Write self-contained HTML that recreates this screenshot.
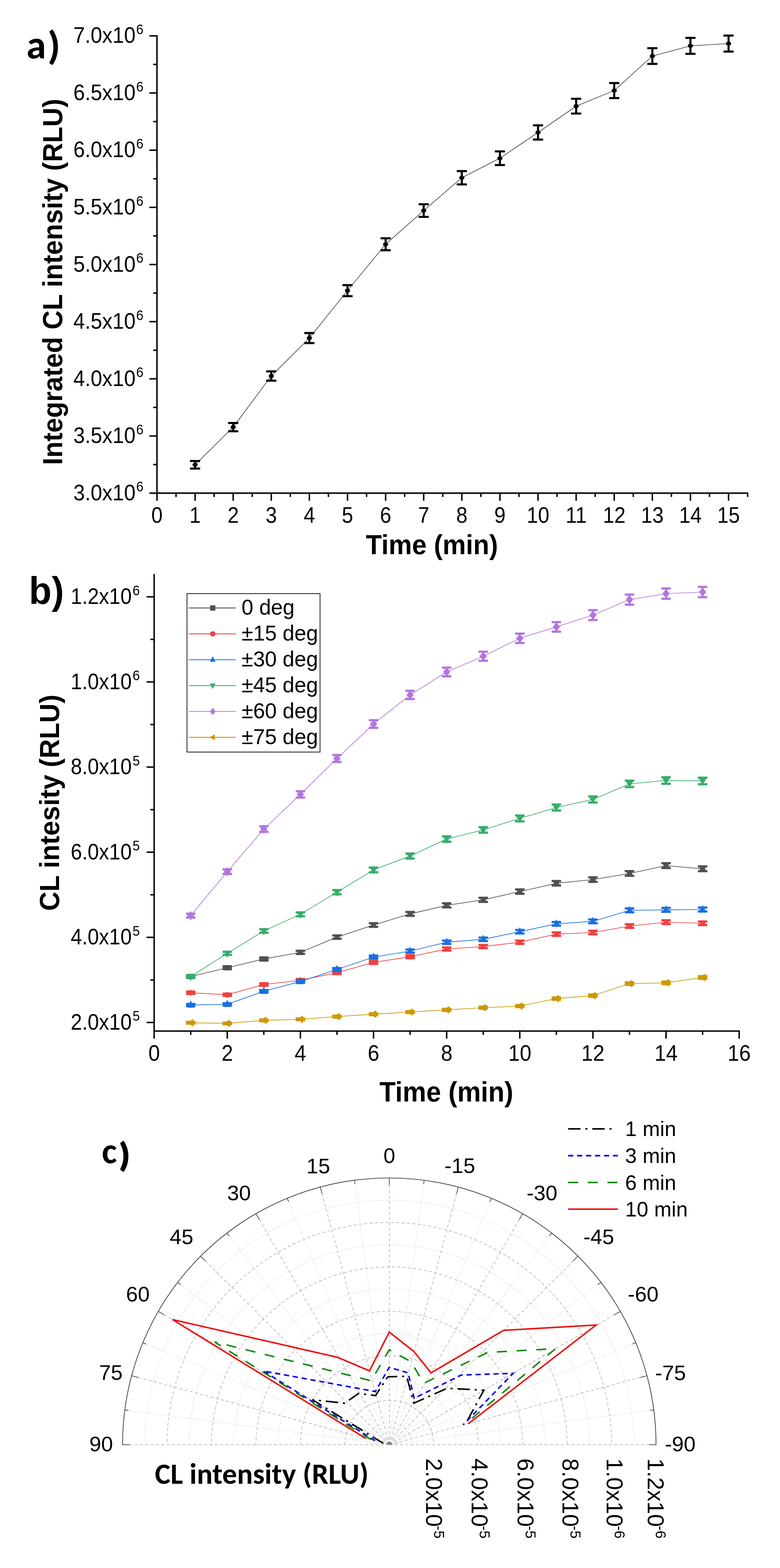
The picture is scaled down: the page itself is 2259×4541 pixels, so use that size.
<!DOCTYPE html>
<html><head><meta charset="utf-8"><title>Figure</title>
<style>html,body{margin:0;padding:0;background:#fff;} svg{display:block;}</style></head>
<body><svg width="2259" height="4541" viewBox="0 0 2259 4541">
<rect width="2259" height="4541" fill="#fff"/>
<line x1="454.6" y1="101.7" x2="454.6" y2="1430.3" stroke="#000" stroke-width="4.2" />
<line x1="452.5" y1="1428.2" x2="2167.3" y2="1428.2" stroke="#000" stroke-width="4.2" />
<line x1="432.6" y1="1428.2" x2="454.6" y2="1428.2" stroke="#000" stroke-width="4.2" />
<line x1="443.6" y1="1345.4" x2="454.6" y2="1345.4" stroke="#000" stroke-width="4.2" />
<line x1="432.6" y1="1262.7" x2="454.6" y2="1262.7" stroke="#000" stroke-width="4.2" />
<line x1="443.6" y1="1179.9" x2="454.6" y2="1179.9" stroke="#000" stroke-width="4.2" />
<line x1="432.6" y1="1097.1" x2="454.6" y2="1097.1" stroke="#000" stroke-width="4.2" />
<line x1="443.6" y1="1014.3" x2="454.6" y2="1014.3" stroke="#000" stroke-width="4.2" />
<line x1="432.6" y1="931.5" x2="454.6" y2="931.5" stroke="#000" stroke-width="4.2" />
<line x1="443.6" y1="848.8" x2="454.6" y2="848.8" stroke="#000" stroke-width="4.2" />
<line x1="432.6" y1="766.0" x2="454.6" y2="766.0" stroke="#000" stroke-width="4.2" />
<line x1="443.6" y1="683.2" x2="454.6" y2="683.2" stroke="#000" stroke-width="4.2" />
<line x1="432.6" y1="600.5" x2="454.6" y2="600.5" stroke="#000" stroke-width="4.2" />
<line x1="443.6" y1="517.7" x2="454.6" y2="517.7" stroke="#000" stroke-width="4.2" />
<line x1="432.6" y1="434.9" x2="454.6" y2="434.9" stroke="#000" stroke-width="4.2" />
<line x1="443.6" y1="352.1" x2="454.6" y2="352.1" stroke="#000" stroke-width="4.2" />
<line x1="432.6" y1="269.3" x2="454.6" y2="269.3" stroke="#000" stroke-width="4.2" />
<line x1="443.6" y1="186.6" x2="454.6" y2="186.6" stroke="#000" stroke-width="4.2" />
<line x1="432.6" y1="103.8" x2="454.6" y2="103.8" stroke="#000" stroke-width="4.2" />
<line x1="454.6" y1="1428.2" x2="454.6" y2="1450.2" stroke="#000" stroke-width="4.2" />
<line x1="509.8" y1="1428.2" x2="509.8" y2="1439.2" stroke="#000" stroke-width="4.2" />
<line x1="565.0" y1="1428.2" x2="565.0" y2="1450.2" stroke="#000" stroke-width="4.2" />
<line x1="620.1" y1="1428.2" x2="620.1" y2="1439.2" stroke="#000" stroke-width="4.2" />
<line x1="675.3" y1="1428.2" x2="675.3" y2="1450.2" stroke="#000" stroke-width="4.2" />
<line x1="730.5" y1="1428.2" x2="730.5" y2="1439.2" stroke="#000" stroke-width="4.2" />
<line x1="785.7" y1="1428.2" x2="785.7" y2="1450.2" stroke="#000" stroke-width="4.2" />
<line x1="840.9" y1="1428.2" x2="840.9" y2="1439.2" stroke="#000" stroke-width="4.2" />
<line x1="896.0" y1="1428.2" x2="896.0" y2="1450.2" stroke="#000" stroke-width="4.2" />
<line x1="951.2" y1="1428.2" x2="951.2" y2="1439.2" stroke="#000" stroke-width="4.2" />
<line x1="1006.4" y1="1428.2" x2="1006.4" y2="1450.2" stroke="#000" stroke-width="4.2" />
<line x1="1061.6" y1="1428.2" x2="1061.6" y2="1439.2" stroke="#000" stroke-width="4.2" />
<line x1="1116.8" y1="1428.2" x2="1116.8" y2="1450.2" stroke="#000" stroke-width="4.2" />
<line x1="1171.9" y1="1428.2" x2="1171.9" y2="1439.2" stroke="#000" stroke-width="4.2" />
<line x1="1227.1" y1="1428.2" x2="1227.1" y2="1450.2" stroke="#000" stroke-width="4.2" />
<line x1="1282.3" y1="1428.2" x2="1282.3" y2="1439.2" stroke="#000" stroke-width="4.2" />
<line x1="1337.5" y1="1428.2" x2="1337.5" y2="1450.2" stroke="#000" stroke-width="4.2" />
<line x1="1392.7" y1="1428.2" x2="1392.7" y2="1439.2" stroke="#000" stroke-width="4.2" />
<line x1="1447.8" y1="1428.2" x2="1447.8" y2="1450.2" stroke="#000" stroke-width="4.2" />
<line x1="1503.0" y1="1428.2" x2="1503.0" y2="1439.2" stroke="#000" stroke-width="4.2" />
<line x1="1558.2" y1="1428.2" x2="1558.2" y2="1450.2" stroke="#000" stroke-width="4.2" />
<line x1="1613.4" y1="1428.2" x2="1613.4" y2="1439.2" stroke="#000" stroke-width="4.2" />
<line x1="1668.6" y1="1428.2" x2="1668.6" y2="1450.2" stroke="#000" stroke-width="4.2" />
<line x1="1723.7" y1="1428.2" x2="1723.7" y2="1439.2" stroke="#000" stroke-width="4.2" />
<line x1="1778.9" y1="1428.2" x2="1778.9" y2="1450.2" stroke="#000" stroke-width="4.2" />
<line x1="1834.1" y1="1428.2" x2="1834.1" y2="1439.2" stroke="#000" stroke-width="4.2" />
<line x1="1889.3" y1="1428.2" x2="1889.3" y2="1450.2" stroke="#000" stroke-width="4.2" />
<line x1="1944.5" y1="1428.2" x2="1944.5" y2="1439.2" stroke="#000" stroke-width="4.2" />
<line x1="1999.6" y1="1428.2" x2="1999.6" y2="1450.2" stroke="#000" stroke-width="4.2" />
<line x1="2054.8" y1="1428.2" x2="2054.8" y2="1439.2" stroke="#000" stroke-width="4.2" />
<line x1="2110.0" y1="1428.2" x2="2110.0" y2="1450.2" stroke="#000" stroke-width="4.2" />
<line x1="2165.2" y1="1428.2" x2="2165.2" y2="1439.2" stroke="#000" stroke-width="4.2" />
<text transform="translate(392.5,1448.7) scale(0.937,1)" font-family='"Liberation Sans", Arial, sans-serif' font-size="64" font-weight="normal" text-anchor="end" fill="#000" >3.0x10</text>
<text transform="translate(394.5,1423.4) scale(0.92,1)" font-family='"Liberation Sans", Arial, sans-serif' font-size="41" font-weight="normal" text-anchor="start" fill="#000" >6</text>
<text transform="translate(392.5,1283.2) scale(0.937,1)" font-family='"Liberation Sans", Arial, sans-serif' font-size="64" font-weight="normal" text-anchor="end" fill="#000" >3.5x10</text>
<text transform="translate(394.5,1257.9) scale(0.92,1)" font-family='"Liberation Sans", Arial, sans-serif' font-size="41" font-weight="normal" text-anchor="start" fill="#000" >6</text>
<text transform="translate(392.5,1117.6) scale(0.937,1)" font-family='"Liberation Sans", Arial, sans-serif' font-size="64" font-weight="normal" text-anchor="end" fill="#000" >4.0x10</text>
<text transform="translate(394.5,1092.3) scale(0.92,1)" font-family='"Liberation Sans", Arial, sans-serif' font-size="41" font-weight="normal" text-anchor="start" fill="#000" >6</text>
<text transform="translate(392.5,952.0) scale(0.937,1)" font-family='"Liberation Sans", Arial, sans-serif' font-size="64" font-weight="normal" text-anchor="end" fill="#000" >4.5x10</text>
<text transform="translate(394.5,926.8) scale(0.92,1)" font-family='"Liberation Sans", Arial, sans-serif' font-size="41" font-weight="normal" text-anchor="start" fill="#000" >6</text>
<text transform="translate(392.5,786.5) scale(0.937,1)" font-family='"Liberation Sans", Arial, sans-serif' font-size="64" font-weight="normal" text-anchor="end" fill="#000" >5.0x10</text>
<text transform="translate(394.5,761.2) scale(0.92,1)" font-family='"Liberation Sans", Arial, sans-serif' font-size="41" font-weight="normal" text-anchor="start" fill="#000" >6</text>
<text transform="translate(392.5,621.0) scale(0.937,1)" font-family='"Liberation Sans", Arial, sans-serif' font-size="64" font-weight="normal" text-anchor="end" fill="#000" >5.5x10</text>
<text transform="translate(394.5,595.7) scale(0.92,1)" font-family='"Liberation Sans", Arial, sans-serif' font-size="41" font-weight="normal" text-anchor="start" fill="#000" >6</text>
<text transform="translate(392.5,455.4) scale(0.937,1)" font-family='"Liberation Sans", Arial, sans-serif' font-size="64" font-weight="normal" text-anchor="end" fill="#000" >6.0x10</text>
<text transform="translate(394.5,430.1) scale(0.92,1)" font-family='"Liberation Sans", Arial, sans-serif' font-size="41" font-weight="normal" text-anchor="start" fill="#000" >6</text>
<text transform="translate(392.5,289.8) scale(0.937,1)" font-family='"Liberation Sans", Arial, sans-serif' font-size="64" font-weight="normal" text-anchor="end" fill="#000" >6.5x10</text>
<text transform="translate(394.5,264.5) scale(0.92,1)" font-family='"Liberation Sans", Arial, sans-serif' font-size="41" font-weight="normal" text-anchor="start" fill="#000" >6</text>
<text transform="translate(392.5,124.3) scale(0.937,1)" font-family='"Liberation Sans", Arial, sans-serif' font-size="64" font-weight="normal" text-anchor="end" fill="#000" >7.0x10</text>
<text transform="translate(394.5,99.0) scale(0.92,1)" font-family='"Liberation Sans", Arial, sans-serif' font-size="41" font-weight="normal" text-anchor="start" fill="#000" >6</text>
<text transform="translate(454.6,1514.0) scale(0.92,1)" font-family='"Liberation Sans", Arial, sans-serif' font-size="64" font-weight="normal" text-anchor="middle" fill="#000" >0</text>
<text transform="translate(565.0,1514.0) scale(0.92,1)" font-family='"Liberation Sans", Arial, sans-serif' font-size="64" font-weight="normal" text-anchor="middle" fill="#000" >1</text>
<text transform="translate(675.3,1514.0) scale(0.92,1)" font-family='"Liberation Sans", Arial, sans-serif' font-size="64" font-weight="normal" text-anchor="middle" fill="#000" >2</text>
<text transform="translate(785.7,1514.0) scale(0.92,1)" font-family='"Liberation Sans", Arial, sans-serif' font-size="64" font-weight="normal" text-anchor="middle" fill="#000" >3</text>
<text transform="translate(896.0,1514.0) scale(0.92,1)" font-family='"Liberation Sans", Arial, sans-serif' font-size="64" font-weight="normal" text-anchor="middle" fill="#000" >4</text>
<text transform="translate(1006.4,1514.0) scale(0.92,1)" font-family='"Liberation Sans", Arial, sans-serif' font-size="64" font-weight="normal" text-anchor="middle" fill="#000" >5</text>
<text transform="translate(1116.8,1514.0) scale(0.92,1)" font-family='"Liberation Sans", Arial, sans-serif' font-size="64" font-weight="normal" text-anchor="middle" fill="#000" >6</text>
<text transform="translate(1227.1,1514.0) scale(0.92,1)" font-family='"Liberation Sans", Arial, sans-serif' font-size="64" font-weight="normal" text-anchor="middle" fill="#000" >7</text>
<text transform="translate(1337.5,1514.0) scale(0.92,1)" font-family='"Liberation Sans", Arial, sans-serif' font-size="64" font-weight="normal" text-anchor="middle" fill="#000" >8</text>
<text transform="translate(1447.8,1514.0) scale(0.92,1)" font-family='"Liberation Sans", Arial, sans-serif' font-size="64" font-weight="normal" text-anchor="middle" fill="#000" >9</text>
<text transform="translate(1558.2,1514.0) scale(0.92,1)" font-family='"Liberation Sans", Arial, sans-serif' font-size="64" font-weight="normal" text-anchor="middle" fill="#000" >10</text>
<text transform="translate(1668.6,1514.0) scale(0.92,1)" font-family='"Liberation Sans", Arial, sans-serif' font-size="64" font-weight="normal" text-anchor="middle" fill="#000" >11</text>
<text transform="translate(1778.9,1514.0) scale(0.92,1)" font-family='"Liberation Sans", Arial, sans-serif' font-size="64" font-weight="normal" text-anchor="middle" fill="#000" >12</text>
<text transform="translate(1889.3,1514.0) scale(0.92,1)" font-family='"Liberation Sans", Arial, sans-serif' font-size="64" font-weight="normal" text-anchor="middle" fill="#000" >13</text>
<text transform="translate(1999.6,1514.0) scale(0.92,1)" font-family='"Liberation Sans", Arial, sans-serif' font-size="64" font-weight="normal" text-anchor="middle" fill="#000" >14</text>
<text transform="translate(2110.0,1514.0) scale(0.92,1)" font-family='"Liberation Sans", Arial, sans-serif' font-size="64" font-weight="normal" text-anchor="middle" fill="#000" >15</text>
<text transform="translate(1250.8,1605.4) scale(0.95,1)" font-family='"Liberation Sans", Arial, sans-serif' font-size="80" font-weight="bold" text-anchor="middle" fill="#000" >Time (min)</text>
<text transform="translate(180.4,816.4) rotate(-90) scale(0.96,1)" font-family='"Liberation Sans", Arial, sans-serif' font-size="80" font-weight="bold" text-anchor="middle" fill="#000" >Integrated CL intensity (RLU)</text>
<text transform="translate(76.4,168.5)" font-family='Carlito, "Liberation Sans", sans-serif' font-size="115" font-weight="bold" text-anchor="start" fill="#000" >a</text>
<text transform="translate(137.5,171.0) scale(1.05,1)" font-family='Carlito, "Liberation Sans", sans-serif' font-size="115" font-weight="bold" text-anchor="start" fill="#000" >)</text>
<polyline fill="none" stroke="#000" stroke-width="1.3" points="565.0,1346.0 675.3,1237.0 785.7,1089.0 896.0,979.0 1006.4,841.7 1116.8,707.4 1227.1,609.8 1337.5,514.8 1447.8,458.2 1558.2,383.6 1668.6,307.4 1778.9,262.3 1889.3,162.3 1999.6,132.8 2110.0,126.2"/>
<rect x="562.0" y="1335.1" width="6.0" height="21.7" fill="#000"/>
<rect x="550.3" y="1332.1" width="29.4" height="6.0" fill="#000"/>
<rect x="550.3" y="1353.9" width="29.4" height="6.0" fill="#000"/>
<ellipse cx="565.0" cy="1346.0" rx="7.5" ry="6" fill="#000"/>
<rect x="672.3" y="1225.0" width="6.0" height="23.9" fill="#000"/>
<rect x="660.6" y="1222.0" width="29.4" height="6.0" fill="#000"/>
<rect x="660.6" y="1246.0" width="29.4" height="6.0" fill="#000"/>
<ellipse cx="675.3" cy="1237.0" rx="7.5" ry="6" fill="#000"/>
<rect x="782.7" y="1075.5" width="6.0" height="26.9" fill="#000"/>
<rect x="771.0" y="1072.5" width="29.4" height="6.0" fill="#000"/>
<rect x="771.0" y="1099.5" width="29.4" height="6.0" fill="#000"/>
<ellipse cx="785.7" cy="1089.0" rx="7.5" ry="6" fill="#000"/>
<rect x="893.0" y="964.4" width="6.0" height="29.1" fill="#000"/>
<rect x="881.3" y="961.4" width="29.4" height="6.0" fill="#000"/>
<rect x="881.3" y="990.6" width="29.4" height="6.0" fill="#000"/>
<ellipse cx="896.0" cy="979.0" rx="7.5" ry="6" fill="#000"/>
<rect x="1003.4" y="825.7" width="6.0" height="31.9" fill="#000"/>
<rect x="991.7" y="822.7" width="29.4" height="6.0" fill="#000"/>
<rect x="991.7" y="854.7" width="29.4" height="6.0" fill="#000"/>
<ellipse cx="1006.4" cy="841.7" rx="7.5" ry="6" fill="#000"/>
<rect x="1113.8" y="690.1" width="6.0" height="34.6" fill="#000"/>
<rect x="1102.1" y="687.1" width="29.4" height="6.0" fill="#000"/>
<rect x="1102.1" y="721.7" width="29.4" height="6.0" fill="#000"/>
<ellipse cx="1116.8" cy="707.4" rx="7.5" ry="6" fill="#000"/>
<rect x="1224.1" y="591.5" width="6.0" height="36.6" fill="#000"/>
<rect x="1212.4" y="588.5" width="29.4" height="6.0" fill="#000"/>
<rect x="1212.4" y="625.1" width="29.4" height="6.0" fill="#000"/>
<ellipse cx="1227.1" cy="609.8" rx="7.5" ry="6" fill="#000"/>
<rect x="1334.5" y="495.5" width="6.0" height="38.5" fill="#000"/>
<rect x="1322.8" y="492.5" width="29.4" height="6.0" fill="#000"/>
<rect x="1322.8" y="531.1" width="29.4" height="6.0" fill="#000"/>
<ellipse cx="1337.5" cy="514.8" rx="7.5" ry="6" fill="#000"/>
<rect x="1444.8" y="438.4" width="6.0" height="39.7" fill="#000"/>
<rect x="1433.1" y="435.4" width="29.4" height="6.0" fill="#000"/>
<rect x="1433.1" y="475.0" width="29.4" height="6.0" fill="#000"/>
<ellipse cx="1447.8" cy="458.2" rx="7.5" ry="6" fill="#000"/>
<rect x="1555.2" y="363.0" width="6.0" height="41.2" fill="#000"/>
<rect x="1543.5" y="360.0" width="29.4" height="6.0" fill="#000"/>
<rect x="1543.5" y="401.2" width="29.4" height="6.0" fill="#000"/>
<ellipse cx="1558.2" cy="383.6" rx="7.5" ry="6" fill="#000"/>
<rect x="1665.6" y="286.0" width="6.0" height="42.7" fill="#000"/>
<rect x="1653.9" y="283.0" width="29.4" height="6.0" fill="#000"/>
<rect x="1653.9" y="325.8" width="29.4" height="6.0" fill="#000"/>
<ellipse cx="1668.6" cy="307.4" rx="7.5" ry="6" fill="#000"/>
<rect x="1775.9" y="240.5" width="6.0" height="43.6" fill="#000"/>
<rect x="1764.2" y="237.5" width="29.4" height="6.0" fill="#000"/>
<rect x="1764.2" y="281.1" width="29.4" height="6.0" fill="#000"/>
<ellipse cx="1778.9" cy="262.3" rx="7.5" ry="6" fill="#000"/>
<rect x="1886.3" y="139.5" width="6.0" height="45.6" fill="#000"/>
<rect x="1874.6" y="136.5" width="29.4" height="6.0" fill="#000"/>
<rect x="1874.6" y="182.1" width="29.4" height="6.0" fill="#000"/>
<ellipse cx="1889.3" cy="162.3" rx="7.5" ry="6" fill="#000"/>
<rect x="1996.6" y="109.7" width="6.0" height="46.2" fill="#000"/>
<rect x="1984.9" y="106.7" width="29.4" height="6.0" fill="#000"/>
<rect x="1984.9" y="152.9" width="29.4" height="6.0" fill="#000"/>
<ellipse cx="1999.6" cy="132.8" rx="7.5" ry="6" fill="#000"/>
<rect x="2107.0" y="103.0" width="6.0" height="46.4" fill="#000"/>
<rect x="2095.3" y="100.0" width="29.4" height="6.0" fill="#000"/>
<rect x="2095.3" y="146.4" width="29.4" height="6.0" fill="#000"/>
<ellipse cx="2110.0" cy="126.2" rx="7.5" ry="6" fill="#000"/>
<line x1="446.4" y1="1662.2" x2="446.4" y2="2988.1" stroke="#000" stroke-width="4.2" />
<line x1="444.3" y1="2986.0" x2="2142.9" y2="2986.0" stroke="#000" stroke-width="4.2" />
<line x1="424.4" y1="2961.1" x2="446.4" y2="2961.1" stroke="#000" stroke-width="4.2" />
<line x1="435.4" y1="2837.8" x2="446.4" y2="2837.8" stroke="#000" stroke-width="4.2" />
<line x1="424.4" y1="2714.6" x2="446.4" y2="2714.6" stroke="#000" stroke-width="4.2" />
<line x1="435.4" y1="2591.3" x2="446.4" y2="2591.3" stroke="#000" stroke-width="4.2" />
<line x1="424.4" y1="2468.0" x2="446.4" y2="2468.0" stroke="#000" stroke-width="4.2" />
<line x1="435.4" y1="2344.8" x2="446.4" y2="2344.8" stroke="#000" stroke-width="4.2" />
<line x1="424.4" y1="2221.5" x2="446.4" y2="2221.5" stroke="#000" stroke-width="4.2" />
<line x1="435.4" y1="2098.2" x2="446.4" y2="2098.2" stroke="#000" stroke-width="4.2" />
<line x1="424.4" y1="1974.9" x2="446.4" y2="1974.9" stroke="#000" stroke-width="4.2" />
<line x1="435.4" y1="1851.7" x2="446.4" y2="1851.7" stroke="#000" stroke-width="4.2" />
<line x1="424.4" y1="1728.4" x2="446.4" y2="1728.4" stroke="#000" stroke-width="4.2" />
<line x1="446.4" y1="2986.0" x2="446.4" y2="3008.0" stroke="#000" stroke-width="4.2" />
<line x1="552.3" y1="2986.0" x2="552.3" y2="2997.0" stroke="#000" stroke-width="4.2" />
<line x1="658.2" y1="2986.0" x2="658.2" y2="3008.0" stroke="#000" stroke-width="4.2" />
<line x1="764.1" y1="2986.0" x2="764.1" y2="2997.0" stroke="#000" stroke-width="4.2" />
<line x1="870.0" y1="2986.0" x2="870.0" y2="3008.0" stroke="#000" stroke-width="4.2" />
<line x1="975.9" y1="2986.0" x2="975.9" y2="2997.0" stroke="#000" stroke-width="4.2" />
<line x1="1081.8" y1="2986.0" x2="1081.8" y2="3008.0" stroke="#000" stroke-width="4.2" />
<line x1="1187.7" y1="2986.0" x2="1187.7" y2="2997.0" stroke="#000" stroke-width="4.2" />
<line x1="1293.6" y1="2986.0" x2="1293.6" y2="3008.0" stroke="#000" stroke-width="4.2" />
<line x1="1399.5" y1="2986.0" x2="1399.5" y2="2997.0" stroke="#000" stroke-width="4.2" />
<line x1="1505.4" y1="2986.0" x2="1505.4" y2="3008.0" stroke="#000" stroke-width="4.2" />
<line x1="1611.3" y1="2986.0" x2="1611.3" y2="2997.0" stroke="#000" stroke-width="4.2" />
<line x1="1717.2" y1="2986.0" x2="1717.2" y2="3008.0" stroke="#000" stroke-width="4.2" />
<line x1="1823.1" y1="2986.0" x2="1823.1" y2="2997.0" stroke="#000" stroke-width="4.2" />
<line x1="1929.0" y1="2986.0" x2="1929.0" y2="3008.0" stroke="#000" stroke-width="4.2" />
<line x1="2034.9" y1="2986.0" x2="2034.9" y2="2997.0" stroke="#000" stroke-width="4.2" />
<line x1="2140.8" y1="2986.0" x2="2140.8" y2="3008.0" stroke="#000" stroke-width="4.2" />
<text transform="translate(381.5,2981.8) scale(0.92,1)" font-family='"Liberation Sans", Arial, sans-serif' font-size="64" font-weight="normal" text-anchor="end" fill="#000" >2.0x10</text>
<text transform="translate(384.0,2956.4) scale(0.92,1)" font-family='"Liberation Sans", Arial, sans-serif' font-size="41" font-weight="normal" text-anchor="start" fill="#000" >5</text>
<text transform="translate(381.5,2735.3) scale(0.92,1)" font-family='"Liberation Sans", Arial, sans-serif' font-size="64" font-weight="normal" text-anchor="end" fill="#000" >4.0x10</text>
<text transform="translate(384.0,2709.9) scale(0.92,1)" font-family='"Liberation Sans", Arial, sans-serif' font-size="41" font-weight="normal" text-anchor="start" fill="#000" >5</text>
<text transform="translate(381.5,2488.7) scale(0.92,1)" font-family='"Liberation Sans", Arial, sans-serif' font-size="64" font-weight="normal" text-anchor="end" fill="#000" >6.0x10</text>
<text transform="translate(384.0,2463.3) scale(0.92,1)" font-family='"Liberation Sans", Arial, sans-serif' font-size="41" font-weight="normal" text-anchor="start" fill="#000" >5</text>
<text transform="translate(381.5,2242.2) scale(0.92,1)" font-family='"Liberation Sans", Arial, sans-serif' font-size="64" font-weight="normal" text-anchor="end" fill="#000" >8.0x10</text>
<text transform="translate(384.0,2216.8) scale(0.92,1)" font-family='"Liberation Sans", Arial, sans-serif' font-size="41" font-weight="normal" text-anchor="start" fill="#000" >5</text>
<text transform="translate(381.5,1995.6) scale(0.92,1)" font-family='"Liberation Sans", Arial, sans-serif' font-size="64" font-weight="normal" text-anchor="end" fill="#000" >1.0x10</text>
<text transform="translate(384.0,1970.2) scale(0.92,1)" font-family='"Liberation Sans", Arial, sans-serif' font-size="41" font-weight="normal" text-anchor="start" fill="#000" >6</text>
<text transform="translate(381.5,1749.1) scale(0.92,1)" font-family='"Liberation Sans", Arial, sans-serif' font-size="64" font-weight="normal" text-anchor="end" fill="#000" >1.2x10</text>
<text transform="translate(384.0,1723.7) scale(0.92,1)" font-family='"Liberation Sans", Arial, sans-serif' font-size="41" font-weight="normal" text-anchor="start" fill="#000" >6</text>
<text transform="translate(446.4,3071.5) scale(0.94,1)" font-family='"Liberation Sans", Arial, sans-serif' font-size="64" font-weight="normal" text-anchor="middle" fill="#000" >0</text>
<text transform="translate(658.2,3071.5) scale(0.94,1)" font-family='"Liberation Sans", Arial, sans-serif' font-size="64" font-weight="normal" text-anchor="middle" fill="#000" >2</text>
<text transform="translate(870.0,3071.5) scale(0.94,1)" font-family='"Liberation Sans", Arial, sans-serif' font-size="64" font-weight="normal" text-anchor="middle" fill="#000" >4</text>
<text transform="translate(1081.8,3071.5) scale(0.94,1)" font-family='"Liberation Sans", Arial, sans-serif' font-size="64" font-weight="normal" text-anchor="middle" fill="#000" >6</text>
<text transform="translate(1293.6,3071.5) scale(0.94,1)" font-family='"Liberation Sans", Arial, sans-serif' font-size="64" font-weight="normal" text-anchor="middle" fill="#000" >8</text>
<text transform="translate(1505.4,3071.5) scale(0.94,1)" font-family='"Liberation Sans", Arial, sans-serif' font-size="64" font-weight="normal" text-anchor="middle" fill="#000" >10</text>
<text transform="translate(1717.2,3071.5) scale(0.94,1)" font-family='"Liberation Sans", Arial, sans-serif' font-size="64" font-weight="normal" text-anchor="middle" fill="#000" >12</text>
<text transform="translate(1929.0,3071.5) scale(0.94,1)" font-family='"Liberation Sans", Arial, sans-serif' font-size="64" font-weight="normal" text-anchor="middle" fill="#000" >14</text>
<text transform="translate(2140.8,3071.5) scale(0.94,1)" font-family='"Liberation Sans", Arial, sans-serif' font-size="64" font-weight="normal" text-anchor="middle" fill="#000" >16</text>
<text transform="translate(1292.8,3189.7) scale(0.95,1)" font-family='"Liberation Sans", Arial, sans-serif' font-size="81" font-weight="bold" text-anchor="middle" fill="#000" >Time (min)</text>
<text transform="translate(170.7,2324.8) rotate(-90) scale(0.968,1)" font-family='"Liberation Sans", Arial, sans-serif' font-size="80" font-weight="bold" text-anchor="middle" fill="#000" >CL intesity (RLU)</text>
<text transform="translate(83.8,1749.0) scale(0.96,1)" font-family='"Liberation Sans", Arial, sans-serif' font-size="112" font-weight="bold" text-anchor="start" fill="#000" >b)</text>
<polyline fill="none" stroke="#515151" stroke-width="1.9" points="552.3,2828.1 658.2,2802.6 764.1,2777.3 870.0,2758.1 975.9,2713.9 1081.8,2678.9 1187.7,2646.7 1293.6,2621.9 1399.5,2606.0 1505.4,2582.1 1611.3,2558.0 1717.2,2547.4 1823.1,2529.6 1929.0,2506.9 2034.9,2516.0"/>
<rect x="544.6" y="2820.4" width="15.4" height="15.4" fill="#515151"/>
<rect x="549.3" y="2824.3" width="6.0" height="7.6" fill="#515151"/>
<rect x="538.6" y="2821.1" width="27.4" height="14.0" fill="#515151"/>
<rect x="650.5" y="2794.9" width="15.4" height="15.4" fill="#515151"/>
<rect x="655.2" y="2798.5" width="6.0" height="8.1" fill="#515151"/>
<rect x="644.5" y="2795.3" width="27.4" height="14.5" fill="#515151"/>
<rect x="756.4" y="2769.6" width="15.4" height="15.4" fill="#515151"/>
<rect x="761.1" y="2773.0" width="6.0" height="8.6" fill="#515151"/>
<rect x="750.4" y="2769.8" width="27.4" height="15.0" fill="#515151"/>
<rect x="862.3" y="2750.4" width="15.4" height="15.4" fill="#515151"/>
<rect x="867.0" y="2753.6" width="6.0" height="9.0" fill="#515151"/>
<rect x="856.3" y="2750.4" width="27.4" height="6.4" fill="#515151"/>
<rect x="856.3" y="2759.4" width="27.4" height="6.4" fill="#515151"/>
<rect x="968.2" y="2706.2" width="15.4" height="15.4" fill="#515151"/>
<rect x="972.9" y="2709.0" width="6.0" height="9.9" fill="#515151"/>
<rect x="962.2" y="2705.8" width="27.4" height="6.4" fill="#515151"/>
<rect x="962.2" y="2715.6" width="27.4" height="6.4" fill="#515151"/>
<rect x="1074.1" y="2671.2" width="15.4" height="15.4" fill="#515151"/>
<rect x="1078.8" y="2673.6" width="6.0" height="10.6" fill="#515151"/>
<rect x="1068.1" y="2670.4" width="27.4" height="6.4" fill="#515151"/>
<rect x="1068.1" y="2681.0" width="27.4" height="6.4" fill="#515151"/>
<rect x="1180.0" y="2639.0" width="15.4" height="15.4" fill="#515151"/>
<rect x="1184.7" y="2641.1" width="6.0" height="11.2" fill="#515151"/>
<rect x="1174.0" y="2637.9" width="27.4" height="6.4" fill="#515151"/>
<rect x="1174.0" y="2649.1" width="27.4" height="6.4" fill="#515151"/>
<rect x="1285.9" y="2614.2" width="15.4" height="15.4" fill="#515151"/>
<rect x="1290.6" y="2616.0" width="6.0" height="11.7" fill="#515151"/>
<rect x="1279.9" y="2612.8" width="27.4" height="6.4" fill="#515151"/>
<rect x="1279.9" y="2624.6" width="27.4" height="6.4" fill="#515151"/>
<rect x="1391.8" y="2598.3" width="15.4" height="15.4" fill="#515151"/>
<rect x="1396.5" y="2600.0" width="6.0" height="12.0" fill="#515151"/>
<rect x="1385.8" y="2596.8" width="27.4" height="6.4" fill="#515151"/>
<rect x="1385.8" y="2608.8" width="27.4" height="6.4" fill="#515151"/>
<rect x="1497.7" y="2574.4" width="15.4" height="15.4" fill="#515151"/>
<rect x="1502.4" y="2575.8" width="6.0" height="12.5" fill="#515151"/>
<rect x="1491.7" y="2572.6" width="27.4" height="6.4" fill="#515151"/>
<rect x="1491.7" y="2585.2" width="27.4" height="6.4" fill="#515151"/>
<rect x="1603.6" y="2550.3" width="15.4" height="15.4" fill="#515151"/>
<rect x="1608.3" y="2551.5" width="6.0" height="13.0" fill="#515151"/>
<rect x="1597.6" y="2548.3" width="27.4" height="6.4" fill="#515151"/>
<rect x="1597.6" y="2561.3" width="27.4" height="6.4" fill="#515151"/>
<rect x="1709.5" y="2539.7" width="15.4" height="15.4" fill="#515151"/>
<rect x="1714.2" y="2540.8" width="6.0" height="13.2" fill="#515151"/>
<rect x="1703.5" y="2537.6" width="27.4" height="6.4" fill="#515151"/>
<rect x="1703.5" y="2550.8" width="27.4" height="6.4" fill="#515151"/>
<rect x="1815.4" y="2521.9" width="15.4" height="15.4" fill="#515151"/>
<rect x="1820.1" y="2522.8" width="6.0" height="13.6" fill="#515151"/>
<rect x="1809.4" y="2519.6" width="27.4" height="6.4" fill="#515151"/>
<rect x="1809.4" y="2533.2" width="27.4" height="6.4" fill="#515151"/>
<rect x="1921.3" y="2499.2" width="15.4" height="15.4" fill="#515151"/>
<rect x="1926.0" y="2499.9" width="6.0" height="14.0" fill="#515151"/>
<rect x="1915.3" y="2496.7" width="27.4" height="6.4" fill="#515151"/>
<rect x="1915.3" y="2510.7" width="27.4" height="6.4" fill="#515151"/>
<rect x="2027.2" y="2508.3" width="15.4" height="15.4" fill="#515151"/>
<rect x="2031.9" y="2509.1" width="6.0" height="13.8" fill="#515151"/>
<rect x="2021.2" y="2505.9" width="27.4" height="6.4" fill="#515151"/>
<rect x="2021.2" y="2519.7" width="27.4" height="6.4" fill="#515151"/>
<polyline fill="none" stroke="#F14040" stroke-width="1.9" points="552.3,2875.0 658.2,2881.0 764.1,2851.3 870.0,2838.9 975.9,2817.0 1081.8,2787.3 1187.7,2770.8 1293.6,2748.4 1399.5,2741.3 1505.4,2728.7 1611.3,2705.3 1717.2,2700.6 1823.1,2681.9 1929.0,2670.6 2034.9,2673.9"/>
<circle cx="552.3" cy="2875.0" r="7.8" fill="#F14040"/>
<rect x="549.3" y="2871.7" width="6.0" height="6.7" fill="#F14040"/>
<rect x="538.6" y="2868.5" width="27.4" height="13.1" fill="#F14040"/>
<circle cx="658.2" cy="2881.0" r="7.8" fill="#F14040"/>
<rect x="655.2" y="2877.7" width="6.0" height="6.5" fill="#F14040"/>
<rect x="644.5" y="2874.5" width="27.4" height="12.9" fill="#F14040"/>
<circle cx="764.1" cy="2851.3" r="7.8" fill="#F14040"/>
<rect x="761.1" y="2847.7" width="6.0" height="7.1" fill="#F14040"/>
<rect x="750.4" y="2844.5" width="27.4" height="13.5" fill="#F14040"/>
<circle cx="870.0" cy="2838.9" r="7.8" fill="#F14040"/>
<rect x="867.0" y="2835.2" width="6.0" height="7.4" fill="#F14040"/>
<rect x="856.3" y="2832.0" width="27.4" height="13.8" fill="#F14040"/>
<circle cx="975.9" cy="2817.0" r="7.8" fill="#F14040"/>
<rect x="972.9" y="2813.1" width="6.0" height="7.8" fill="#F14040"/>
<rect x="962.2" y="2809.9" width="27.4" height="14.2" fill="#F14040"/>
<circle cx="1081.8" cy="2787.3" r="7.8" fill="#F14040"/>
<rect x="1078.8" y="2783.1" width="6.0" height="8.4" fill="#F14040"/>
<rect x="1068.1" y="2779.9" width="27.4" height="14.8" fill="#F14040"/>
<circle cx="1187.7" cy="2770.8" r="7.8" fill="#F14040"/>
<rect x="1184.7" y="2766.4" width="6.0" height="8.7" fill="#F14040"/>
<rect x="1174.0" y="2763.2" width="27.4" height="15.1" fill="#F14040"/>
<circle cx="1293.6" cy="2748.4" r="7.8" fill="#F14040"/>
<rect x="1290.6" y="2743.8" width="6.0" height="9.2" fill="#F14040"/>
<rect x="1279.9" y="2740.6" width="27.4" height="6.4" fill="#F14040"/>
<rect x="1279.9" y="2749.8" width="27.4" height="6.4" fill="#F14040"/>
<circle cx="1399.5" cy="2741.3" r="7.8" fill="#F14040"/>
<rect x="1396.5" y="2736.6" width="6.0" height="9.3" fill="#F14040"/>
<rect x="1385.8" y="2733.4" width="27.4" height="6.4" fill="#F14040"/>
<rect x="1385.8" y="2742.8" width="27.4" height="6.4" fill="#F14040"/>
<circle cx="1505.4" cy="2728.7" r="7.8" fill="#F14040"/>
<rect x="1502.4" y="2723.9" width="6.0" height="9.6" fill="#F14040"/>
<rect x="1491.7" y="2720.7" width="27.4" height="6.4" fill="#F14040"/>
<rect x="1491.7" y="2730.3" width="27.4" height="6.4" fill="#F14040"/>
<circle cx="1611.3" cy="2705.3" r="7.8" fill="#F14040"/>
<rect x="1608.3" y="2700.3" width="6.0" height="10.0" fill="#F14040"/>
<rect x="1597.6" y="2697.1" width="27.4" height="6.4" fill="#F14040"/>
<rect x="1597.6" y="2707.1" width="27.4" height="6.4" fill="#F14040"/>
<circle cx="1717.2" cy="2700.6" r="7.8" fill="#F14040"/>
<rect x="1714.2" y="2695.5" width="6.0" height="10.1" fill="#F14040"/>
<rect x="1703.5" y="2692.3" width="27.4" height="6.4" fill="#F14040"/>
<rect x="1703.5" y="2702.5" width="27.4" height="6.4" fill="#F14040"/>
<circle cx="1823.1" cy="2681.9" r="7.8" fill="#F14040"/>
<rect x="1820.1" y="2676.6" width="6.0" height="10.5" fill="#F14040"/>
<rect x="1809.4" y="2673.4" width="27.4" height="6.4" fill="#F14040"/>
<rect x="1809.4" y="2684.0" width="27.4" height="6.4" fill="#F14040"/>
<circle cx="1929.0" cy="2670.6" r="7.8" fill="#F14040"/>
<rect x="1926.0" y="2665.2" width="6.0" height="10.7" fill="#F14040"/>
<rect x="1915.3" y="2662.0" width="27.4" height="6.4" fill="#F14040"/>
<rect x="1915.3" y="2672.8" width="27.4" height="6.4" fill="#F14040"/>
<circle cx="2034.9" cy="2673.9" r="7.8" fill="#F14040"/>
<rect x="2031.9" y="2668.6" width="6.0" height="10.7" fill="#F14040"/>
<rect x="2021.2" y="2665.4" width="27.4" height="6.4" fill="#F14040"/>
<rect x="2021.2" y="2676.0" width="27.4" height="6.4" fill="#F14040"/>
<polyline fill="none" stroke="#1A6FDF" stroke-width="1.9" points="552.3,2910.5 658.2,2908.5 764.1,2870.7 870.0,2842.5 975.9,2807.6 1081.8,2771.8 1187.7,2754.4 1293.6,2728.7 1399.5,2720.3 1505.4,2698.2 1611.3,2675.5 1717.2,2668.3 1823.1,2636.4 1929.0,2635.0 2034.9,2634.1"/>
<polygon fill="#1A6FDF" points="552.3,2897.5 563.0,2918.3 541.6,2918.3"/>
<rect x="549.3" y="2907.5" width="6.0" height="5.9" fill="#1A6FDF"/>
<rect x="538.6" y="2904.3" width="27.4" height="12.3" fill="#1A6FDF"/>
<polygon fill="#1A6FDF" points="658.2,2895.5 668.9,2916.3 647.5,2916.3"/>
<rect x="655.2" y="2905.5" width="6.0" height="6.0" fill="#1A6FDF"/>
<rect x="644.5" y="2902.3" width="27.4" height="12.4" fill="#1A6FDF"/>
<polygon fill="#1A6FDF" points="764.1,2857.7 774.8,2878.5 753.4,2878.5"/>
<rect x="761.1" y="2867.3" width="6.0" height="6.7" fill="#1A6FDF"/>
<rect x="750.4" y="2864.1" width="27.4" height="13.1" fill="#1A6FDF"/>
<polygon fill="#1A6FDF" points="870.0,2829.5 880.7,2850.3 859.3,2850.3"/>
<rect x="867.0" y="2838.8" width="6.0" height="7.3" fill="#1A6FDF"/>
<rect x="856.3" y="2835.6" width="27.4" height="13.7" fill="#1A6FDF"/>
<polygon fill="#1A6FDF" points="975.9,2794.6 986.6,2815.4 965.2,2815.4"/>
<rect x="972.9" y="2803.6" width="6.0" height="8.0" fill="#1A6FDF"/>
<rect x="962.2" y="2800.4" width="27.4" height="14.4" fill="#1A6FDF"/>
<polygon fill="#1A6FDF" points="1081.8,2758.8 1092.5,2779.6 1071.1,2779.6"/>
<rect x="1078.8" y="2767.4" width="6.0" height="8.7" fill="#1A6FDF"/>
<rect x="1068.1" y="2764.2" width="27.4" height="15.1" fill="#1A6FDF"/>
<polygon fill="#1A6FDF" points="1187.7,2741.4 1198.4,2762.2 1177.0,2762.2"/>
<rect x="1184.7" y="2749.9" width="6.0" height="9.1" fill="#1A6FDF"/>
<rect x="1174.0" y="2746.7" width="27.4" height="6.4" fill="#1A6FDF"/>
<rect x="1174.0" y="2755.7" width="27.4" height="6.4" fill="#1A6FDF"/>
<polygon fill="#1A6FDF" points="1293.6,2715.7 1304.3,2736.5 1282.9,2736.5"/>
<rect x="1290.6" y="2723.9" width="6.0" height="9.6" fill="#1A6FDF"/>
<rect x="1279.9" y="2720.7" width="27.4" height="6.4" fill="#1A6FDF"/>
<rect x="1279.9" y="2730.3" width="27.4" height="6.4" fill="#1A6FDF"/>
<polygon fill="#1A6FDF" points="1399.5,2707.3 1410.2,2728.1 1388.8,2728.1"/>
<rect x="1396.5" y="2715.4" width="6.0" height="9.7" fill="#1A6FDF"/>
<rect x="1385.8" y="2712.2" width="27.4" height="6.4" fill="#1A6FDF"/>
<rect x="1385.8" y="2722.0" width="27.4" height="6.4" fill="#1A6FDF"/>
<polygon fill="#1A6FDF" points="1505.4,2685.2 1516.1,2706.0 1494.7,2706.0"/>
<rect x="1502.4" y="2693.1" width="6.0" height="10.2" fill="#1A6FDF"/>
<rect x="1491.7" y="2689.9" width="27.4" height="6.4" fill="#1A6FDF"/>
<rect x="1491.7" y="2700.1" width="27.4" height="6.4" fill="#1A6FDF"/>
<polygon fill="#1A6FDF" points="1611.3,2662.5 1622.0,2683.3 1600.6,2683.3"/>
<rect x="1608.3" y="2670.2" width="6.0" height="10.6" fill="#1A6FDF"/>
<rect x="1597.6" y="2667.0" width="27.4" height="6.4" fill="#1A6FDF"/>
<rect x="1597.6" y="2677.6" width="27.4" height="6.4" fill="#1A6FDF"/>
<polygon fill="#1A6FDF" points="1717.2,2655.3 1727.9,2676.1 1706.5,2676.1"/>
<rect x="1714.2" y="2662.9" width="6.0" height="10.8" fill="#1A6FDF"/>
<rect x="1703.5" y="2659.7" width="27.4" height="6.4" fill="#1A6FDF"/>
<rect x="1703.5" y="2670.5" width="27.4" height="6.4" fill="#1A6FDF"/>
<polygon fill="#1A6FDF" points="1823.1,2623.4 1833.8,2644.2 1812.4,2644.2"/>
<rect x="1820.1" y="2630.7" width="6.0" height="11.4" fill="#1A6FDF"/>
<rect x="1809.4" y="2627.5" width="27.4" height="6.4" fill="#1A6FDF"/>
<rect x="1809.4" y="2638.9" width="27.4" height="6.4" fill="#1A6FDF"/>
<polygon fill="#1A6FDF" points="1929.0,2622.0 1939.7,2642.8 1918.3,2642.8"/>
<rect x="1926.0" y="2629.3" width="6.0" height="11.5" fill="#1A6FDF"/>
<rect x="1915.3" y="2626.1" width="27.4" height="6.4" fill="#1A6FDF"/>
<rect x="1915.3" y="2637.5" width="27.4" height="6.4" fill="#1A6FDF"/>
<polygon fill="#1A6FDF" points="2034.9,2621.1 2045.6,2641.9 2024.2,2641.9"/>
<rect x="2031.9" y="2628.4" width="6.0" height="11.5" fill="#1A6FDF"/>
<rect x="2021.2" y="2625.2" width="27.4" height="6.4" fill="#1A6FDF"/>
<rect x="2021.2" y="2636.6" width="27.4" height="6.4" fill="#1A6FDF"/>
<polyline fill="none" stroke="#37AD6B" stroke-width="1.9" points="552.3,2828.1 658.2,2761.0 764.1,2696.0 870.0,2648.0 975.9,2583.8 1081.8,2519.3 1187.7,2479.0 1293.6,2429.9 1399.5,2403.4 1505.4,2370.2 1611.3,2338.6 1717.2,2315.3 1823.1,2270.1 1929.0,2260.3 2034.9,2261.7"/>
<polygon fill="#37AD6B" points="552.3,2841.1 563.0,2820.3 541.6,2820.3"/>
<rect x="549.3" y="2824.3" width="6.0" height="7.6" fill="#37AD6B"/>
<rect x="538.6" y="2821.1" width="27.4" height="14.0" fill="#37AD6B"/>
<polygon fill="#37AD6B" points="658.2,2774.0 668.9,2753.2 647.5,2753.2"/>
<rect x="655.2" y="2756.5" width="6.0" height="8.9" fill="#37AD6B"/>
<rect x="644.5" y="2753.3" width="27.4" height="6.4" fill="#37AD6B"/>
<rect x="644.5" y="2762.3" width="27.4" height="6.4" fill="#37AD6B"/>
<polygon fill="#37AD6B" points="764.1,2709.0 774.8,2688.2 753.4,2688.2"/>
<rect x="761.1" y="2690.9" width="6.0" height="10.2" fill="#37AD6B"/>
<rect x="750.4" y="2687.7" width="27.4" height="6.4" fill="#37AD6B"/>
<rect x="750.4" y="2697.9" width="27.4" height="6.4" fill="#37AD6B"/>
<polygon fill="#37AD6B" points="870.0,2661.0 880.7,2640.2 859.3,2640.2"/>
<rect x="867.0" y="2642.4" width="6.0" height="11.2" fill="#37AD6B"/>
<rect x="856.3" y="2639.2" width="27.4" height="6.4" fill="#37AD6B"/>
<rect x="856.3" y="2650.4" width="27.4" height="6.4" fill="#37AD6B"/>
<polygon fill="#37AD6B" points="975.9,2596.8 986.6,2576.0 965.2,2576.0"/>
<rect x="972.9" y="2577.6" width="6.0" height="12.5" fill="#37AD6B"/>
<rect x="962.2" y="2574.4" width="27.4" height="6.4" fill="#37AD6B"/>
<rect x="962.2" y="2586.8" width="27.4" height="6.4" fill="#37AD6B"/>
<polygon fill="#37AD6B" points="1081.8,2532.3 1092.5,2511.5 1071.1,2511.5"/>
<rect x="1078.8" y="2512.4" width="6.0" height="13.8" fill="#37AD6B"/>
<rect x="1068.1" y="2509.2" width="27.4" height="6.4" fill="#37AD6B"/>
<rect x="1068.1" y="2523.0" width="27.4" height="6.4" fill="#37AD6B"/>
<polygon fill="#37AD6B" points="1187.7,2492.0 1198.4,2471.2 1177.0,2471.2"/>
<rect x="1184.7" y="2471.7" width="6.0" height="14.6" fill="#37AD6B"/>
<rect x="1174.0" y="2468.5" width="27.4" height="6.4" fill="#37AD6B"/>
<rect x="1174.0" y="2483.1" width="27.4" height="6.4" fill="#37AD6B"/>
<polygon fill="#37AD6B" points="1293.6,2442.9 1304.3,2422.1 1282.9,2422.1"/>
<rect x="1290.6" y="2422.1" width="6.0" height="15.6" fill="#37AD6B"/>
<rect x="1279.9" y="2418.9" width="27.4" height="6.4" fill="#37AD6B"/>
<rect x="1279.9" y="2434.5" width="27.4" height="6.4" fill="#37AD6B"/>
<polygon fill="#37AD6B" points="1399.5,2416.4 1410.2,2395.6 1388.8,2395.6"/>
<rect x="1396.5" y="2395.4" width="6.0" height="16.1" fill="#37AD6B"/>
<rect x="1385.8" y="2392.2" width="27.4" height="6.4" fill="#37AD6B"/>
<rect x="1385.8" y="2408.2" width="27.4" height="6.4" fill="#37AD6B"/>
<polygon fill="#37AD6B" points="1505.4,2383.2 1516.1,2362.4 1494.7,2362.4"/>
<rect x="1502.4" y="2361.8" width="6.0" height="16.7" fill="#37AD6B"/>
<rect x="1491.7" y="2358.6" width="27.4" height="6.4" fill="#37AD6B"/>
<rect x="1491.7" y="2375.4" width="27.4" height="6.4" fill="#37AD6B"/>
<polygon fill="#37AD6B" points="1611.3,2351.6 1622.0,2330.8 1600.6,2330.8"/>
<rect x="1608.3" y="2329.9" width="6.0" height="17.4" fill="#37AD6B"/>
<rect x="1597.6" y="2326.7" width="27.4" height="6.4" fill="#37AD6B"/>
<rect x="1597.6" y="2344.1" width="27.4" height="6.4" fill="#37AD6B"/>
<polygon fill="#37AD6B" points="1717.2,2328.3 1727.9,2307.5 1706.5,2307.5"/>
<rect x="1714.2" y="2306.4" width="6.0" height="17.8" fill="#37AD6B"/>
<rect x="1703.5" y="2303.2" width="27.4" height="6.4" fill="#37AD6B"/>
<rect x="1703.5" y="2321.0" width="27.4" height="6.4" fill="#37AD6B"/>
<polygon fill="#37AD6B" points="1823.1,2283.1 1833.8,2262.3 1812.4,2262.3"/>
<rect x="1820.1" y="2260.7" width="6.0" height="18.8" fill="#37AD6B"/>
<rect x="1809.4" y="2257.5" width="27.4" height="6.4" fill="#37AD6B"/>
<rect x="1809.4" y="2276.3" width="27.4" height="6.4" fill="#37AD6B"/>
<polygon fill="#37AD6B" points="1929.0,2273.3 1939.7,2252.5 1918.3,2252.5"/>
<rect x="1926.0" y="2250.8" width="6.0" height="18.9" fill="#37AD6B"/>
<rect x="1915.3" y="2247.6" width="27.4" height="6.4" fill="#37AD6B"/>
<rect x="1915.3" y="2266.6" width="27.4" height="6.4" fill="#37AD6B"/>
<polygon fill="#37AD6B" points="2034.9,2274.7 2045.6,2253.9 2024.2,2253.9"/>
<rect x="2031.9" y="2252.2" width="6.0" height="18.9" fill="#37AD6B"/>
<rect x="2021.2" y="2249.0" width="27.4" height="6.4" fill="#37AD6B"/>
<rect x="2021.2" y="2268.0" width="27.4" height="6.4" fill="#37AD6B"/>
<polyline fill="none" stroke="#B177DE" stroke-width="1.9" points="552.3,2651.7 658.2,2524.4 764.1,2401.1 870.0,2300.7 975.9,2196.7 1081.8,2096.8 1187.7,2012.5 1293.6,1946.2 1399.5,1900.4 1505.4,1848.6 1611.3,1815.5 1717.2,1781.3 1823.1,1736.5 1929.0,1719.1 2034.9,1714.6"/>
<polygon fill="#B177DE" points="552.3,2638.3 562.7,2651.7 552.3,2665.1 541.9,2651.7"/>
<rect x="549.3" y="2646.1" width="6.0" height="11.1" fill="#B177DE"/>
<rect x="538.6" y="2642.9" width="27.4" height="6.4" fill="#B177DE"/>
<rect x="538.6" y="2654.1" width="27.4" height="6.4" fill="#B177DE"/>
<polygon fill="#B177DE" points="658.2,2511.0 668.6,2524.4 658.2,2537.8 647.8,2524.4"/>
<rect x="655.2" y="2517.6" width="6.0" height="13.7" fill="#B177DE"/>
<rect x="644.5" y="2514.4" width="27.4" height="6.4" fill="#B177DE"/>
<rect x="644.5" y="2528.0" width="27.4" height="6.4" fill="#B177DE"/>
<polygon fill="#B177DE" points="764.1,2387.7 774.5,2401.1 764.1,2414.5 753.7,2401.1"/>
<rect x="761.1" y="2393.0" width="6.0" height="16.1" fill="#B177DE"/>
<rect x="750.4" y="2389.8" width="27.4" height="6.4" fill="#B177DE"/>
<rect x="750.4" y="2406.0" width="27.4" height="6.4" fill="#B177DE"/>
<polygon fill="#B177DE" points="870.0,2287.3 880.4,2300.7 870.0,2314.1 859.6,2300.7"/>
<rect x="867.0" y="2291.6" width="6.0" height="18.1" fill="#B177DE"/>
<rect x="856.3" y="2288.4" width="27.4" height="6.4" fill="#B177DE"/>
<rect x="856.3" y="2306.6" width="27.4" height="6.4" fill="#B177DE"/>
<polygon fill="#B177DE" points="975.9,2183.3 986.3,2196.7 975.9,2210.1 965.5,2196.7"/>
<rect x="972.9" y="2186.6" width="6.0" height="20.2" fill="#B177DE"/>
<rect x="962.2" y="2183.4" width="27.4" height="6.4" fill="#B177DE"/>
<rect x="962.2" y="2203.6" width="27.4" height="6.4" fill="#B177DE"/>
<polygon fill="#B177DE" points="1081.8,2083.4 1092.2,2096.8 1081.8,2110.2 1071.4,2096.8"/>
<rect x="1078.8" y="2085.7" width="6.0" height="22.2" fill="#B177DE"/>
<rect x="1068.1" y="2082.5" width="27.4" height="6.4" fill="#B177DE"/>
<rect x="1068.1" y="2104.7" width="27.4" height="6.4" fill="#B177DE"/>
<polygon fill="#B177DE" points="1187.7,1999.1 1198.1,2012.5 1187.7,2025.9 1177.3,2012.5"/>
<rect x="1184.7" y="2000.5" width="6.0" height="23.9" fill="#B177DE"/>
<rect x="1174.0" y="1997.3" width="27.4" height="6.4" fill="#B177DE"/>
<rect x="1174.0" y="2021.3" width="27.4" height="6.4" fill="#B177DE"/>
<polygon fill="#B177DE" points="1293.6,1932.8 1304.0,1946.2 1293.6,1959.6 1283.2,1946.2"/>
<rect x="1290.6" y="1933.6" width="6.0" height="25.2" fill="#B177DE"/>
<rect x="1279.9" y="1930.4" width="27.4" height="6.4" fill="#B177DE"/>
<rect x="1279.9" y="1955.6" width="27.4" height="6.4" fill="#B177DE"/>
<polygon fill="#B177DE" points="1399.5,1887.0 1409.9,1900.4 1399.5,1913.8 1389.1,1900.4"/>
<rect x="1396.5" y="1887.3" width="6.0" height="26.1" fill="#B177DE"/>
<rect x="1385.8" y="1884.1" width="27.4" height="6.4" fill="#B177DE"/>
<rect x="1385.8" y="1910.3" width="27.4" height="6.4" fill="#B177DE"/>
<polygon fill="#B177DE" points="1505.4,1835.2 1515.8,1848.6 1505.4,1862.0 1495.0,1848.6"/>
<rect x="1502.4" y="1835.0" width="6.0" height="27.2" fill="#B177DE"/>
<rect x="1491.7" y="1831.8" width="27.4" height="6.4" fill="#B177DE"/>
<rect x="1491.7" y="1859.0" width="27.4" height="6.4" fill="#B177DE"/>
<polygon fill="#B177DE" points="1611.3,1802.1 1621.7,1815.5 1611.3,1828.9 1600.9,1815.5"/>
<rect x="1608.3" y="1801.6" width="6.0" height="27.8" fill="#B177DE"/>
<rect x="1597.6" y="1798.4" width="27.4" height="6.4" fill="#B177DE"/>
<rect x="1597.6" y="1826.2" width="27.4" height="6.4" fill="#B177DE"/>
<polygon fill="#B177DE" points="1717.2,1767.9 1727.6,1781.3 1717.2,1794.7 1706.8,1781.3"/>
<rect x="1714.2" y="1767.0" width="6.0" height="28.5" fill="#B177DE"/>
<rect x="1703.5" y="1763.8" width="27.4" height="6.4" fill="#B177DE"/>
<rect x="1703.5" y="1792.4" width="27.4" height="6.4" fill="#B177DE"/>
<polygon fill="#B177DE" points="1823.1,1723.1 1833.5,1736.5 1823.1,1749.9 1812.7,1736.5"/>
<rect x="1820.1" y="1721.8" width="6.0" height="29.4" fill="#B177DE"/>
<rect x="1809.4" y="1718.6" width="27.4" height="6.4" fill="#B177DE"/>
<rect x="1809.4" y="1748.0" width="27.4" height="6.4" fill="#B177DE"/>
<polygon fill="#B177DE" points="1929.0,1705.7 1939.4,1719.1 1929.0,1732.5 1918.6,1719.1"/>
<rect x="1926.0" y="1704.2" width="6.0" height="29.8" fill="#B177DE"/>
<rect x="1915.3" y="1701.0" width="27.4" height="6.4" fill="#B177DE"/>
<rect x="1915.3" y="1730.8" width="27.4" height="6.4" fill="#B177DE"/>
<polygon fill="#B177DE" points="2034.9,1701.2 2045.3,1714.6 2034.9,1728.0 2024.5,1714.6"/>
<rect x="2031.9" y="1699.7" width="6.0" height="29.9" fill="#B177DE"/>
<rect x="2021.2" y="1696.5" width="27.4" height="6.4" fill="#B177DE"/>
<rect x="2021.2" y="1726.3" width="27.4" height="6.4" fill="#B177DE"/>
<polyline fill="none" stroke="#CC9900" stroke-width="1.9" points="552.3,2962.0 658.2,2963.8 764.1,2955.0 870.0,2952.0 975.9,2944.0 1081.8,2937.2 1187.7,2931.0 1293.6,2924.5 1399.5,2918.4 1505.4,2913.7 1611.3,2892.0 1717.2,2883.3 1823.1,2848.6 1929.0,2846.3 2034.9,2830.8"/>
<polygon fill="#CC9900" points="540.6,2962.0 560.1,2950.9 560.1,2973.1"/>
<rect x="549.3" y="2959.5" width="6.0" height="4.9" fill="#CC9900"/>
<rect x="538.6" y="2956.3" width="27.4" height="11.3" fill="#CC9900"/>
<polygon fill="#CC9900" points="646.5,2963.8 666.0,2952.8 666.0,2974.9"/>
<rect x="655.2" y="2961.4" width="6.0" height="4.9" fill="#CC9900"/>
<rect x="644.5" y="2958.2" width="27.4" height="11.3" fill="#CC9900"/>
<polygon fill="#CC9900" points="752.4,2955.0 771.9,2943.9 771.9,2966.1"/>
<rect x="761.1" y="2952.5" width="6.0" height="5.1" fill="#CC9900"/>
<rect x="750.4" y="2949.3" width="27.4" height="11.5" fill="#CC9900"/>
<polygon fill="#CC9900" points="858.3,2952.0 877.8,2940.9 877.8,2963.1"/>
<rect x="867.0" y="2949.4" width="6.0" height="5.1" fill="#CC9900"/>
<rect x="856.3" y="2946.2" width="27.4" height="11.5" fill="#CC9900"/>
<polygon fill="#CC9900" points="964.2,2944.0 983.7,2932.9 983.7,2955.1"/>
<rect x="972.9" y="2941.4" width="6.0" height="5.3" fill="#CC9900"/>
<rect x="962.2" y="2938.2" width="27.4" height="11.7" fill="#CC9900"/>
<polygon fill="#CC9900" points="1070.1,2937.2 1089.6,2926.1 1089.6,2948.2"/>
<rect x="1078.8" y="2934.5" width="6.0" height="5.4" fill="#CC9900"/>
<rect x="1068.1" y="2931.3" width="27.4" height="11.8" fill="#CC9900"/>
<polygon fill="#CC9900" points="1176.0,2931.0 1195.5,2919.9 1195.5,2942.1"/>
<rect x="1184.7" y="2928.2" width="6.0" height="5.5" fill="#CC9900"/>
<rect x="1174.0" y="2925.0" width="27.4" height="11.9" fill="#CC9900"/>
<polygon fill="#CC9900" points="1281.9,2924.5 1301.4,2913.4 1301.4,2935.6"/>
<rect x="1290.6" y="2921.7" width="6.0" height="5.7" fill="#CC9900"/>
<rect x="1279.9" y="2918.5" width="27.4" height="12.1" fill="#CC9900"/>
<polygon fill="#CC9900" points="1387.8,2918.4 1407.3,2907.3 1407.3,2929.5"/>
<rect x="1396.5" y="2915.5" width="6.0" height="5.8" fill="#CC9900"/>
<rect x="1385.8" y="2912.3" width="27.4" height="12.2" fill="#CC9900"/>
<polygon fill="#CC9900" points="1493.7,2913.7 1513.2,2902.6 1513.2,2924.8"/>
<rect x="1502.4" y="2910.8" width="6.0" height="5.9" fill="#CC9900"/>
<rect x="1491.7" y="2907.6" width="27.4" height="12.3" fill="#CC9900"/>
<polygon fill="#CC9900" points="1599.6,2892.0 1619.1,2880.9 1619.1,2903.1"/>
<rect x="1608.3" y="2888.8" width="6.0" height="6.3" fill="#CC9900"/>
<rect x="1597.6" y="2885.6" width="27.4" height="12.7" fill="#CC9900"/>
<polygon fill="#CC9900" points="1705.5,2883.3 1725.0,2872.2 1725.0,2894.4"/>
<rect x="1714.2" y="2880.1" width="6.0" height="6.5" fill="#CC9900"/>
<rect x="1703.5" y="2876.9" width="27.4" height="12.9" fill="#CC9900"/>
<polygon fill="#CC9900" points="1811.4,2848.6 1830.9,2837.5 1830.9,2859.7"/>
<rect x="1820.1" y="2845.0" width="6.0" height="7.2" fill="#CC9900"/>
<rect x="1809.4" y="2841.8" width="27.4" height="13.6" fill="#CC9900"/>
<polygon fill="#CC9900" points="1917.3,2846.3 1936.8,2835.2 1936.8,2857.4"/>
<rect x="1926.0" y="2842.7" width="6.0" height="7.2" fill="#CC9900"/>
<rect x="1915.3" y="2839.5" width="27.4" height="13.6" fill="#CC9900"/>
<polygon fill="#CC9900" points="2023.2,2830.8 2042.7,2819.8 2042.7,2841.9"/>
<rect x="2031.9" y="2827.0" width="6.0" height="7.5" fill="#CC9900"/>
<rect x="2021.2" y="2823.8" width="27.4" height="13.9" fill="#CC9900"/>
<rect x="541.6" y="1719.2" width="385.3" height="458.8" fill="#fff" stroke="#000" stroke-width="2"/>
<line x1="546.6" y1="1760.8" x2="682.7" y2="1760.8" stroke="#515151" stroke-width="2.4" />
<rect x="608.4" y="1753.1" width="15.4" height="15.4" fill="#515151"/>
<text transform="translate(699.5,1780.0) scale(0.975,1)" font-family='"Liberation Sans", Arial, sans-serif' font-size="63" font-weight="normal" text-anchor="start" fill="#000" >0 deg</text>
<line x1="546.6" y1="1835.7" x2="682.7" y2="1835.7" stroke="#F14040" stroke-width="2.4" />
<circle cx="616.1" cy="1835.7" r="7.8" fill="#F14040"/>
<text transform="translate(699.5,1854.9) scale(0.975,1)" font-family='"Liberation Sans", Arial, sans-serif' font-size="63" font-weight="normal" text-anchor="start" fill="#000" >&#177;15 deg</text>
<line x1="546.6" y1="1910.6" x2="682.7" y2="1910.6" stroke="#1A6FDF" stroke-width="2.4" />
<polygon fill="#1A6FDF" points="616.1,1900.6 624.3,1916.6 607.9,1916.6"/>
<text transform="translate(699.5,1929.8) scale(0.975,1)" font-family='"Liberation Sans", Arial, sans-serif' font-size="63" font-weight="normal" text-anchor="start" fill="#000" >&#177;30 deg</text>
<line x1="546.6" y1="1985.5" x2="682.7" y2="1985.5" stroke="#37AD6B" stroke-width="2.4" />
<polygon fill="#37AD6B" points="616.1,1995.5 624.3,1979.5 607.9,1979.5"/>
<text transform="translate(699.5,2004.7) scale(0.975,1)" font-family='"Liberation Sans", Arial, sans-serif' font-size="63" font-weight="normal" text-anchor="start" fill="#000" >&#177;45 deg</text>
<line x1="546.6" y1="2060.4" x2="682.7" y2="2060.4" stroke="#B177DE" stroke-width="2.4" />
<polygon fill="#B177DE" points="616.1,2050.1 624.1,2060.4 616.1,2070.7 608.1,2060.4"/>
<text transform="translate(699.5,2079.6) scale(0.975,1)" font-family='"Liberation Sans", Arial, sans-serif' font-size="63" font-weight="normal" text-anchor="start" fill="#000" >&#177;60 deg</text>
<line x1="546.6" y1="2135.3" x2="682.7" y2="2135.3" stroke="#CC9900" stroke-width="2.4" />
<polygon fill="#CC9900" points="607.1,2135.3 622.1,2126.8 622.1,2143.8"/>
<text transform="translate(699.5,2154.5) scale(0.975,1)" font-family='"Liberation Sans", Arial, sans-serif' font-size="63" font-weight="normal" text-anchor="start" fill="#000" >&#177;75 deg</text>
<defs><clipPath id="up"><rect x="0" y="0" width="2259" height="4184.0"/></clipPath><clipPath id="up2"><rect x="0" y="0" width="2259" height="4185.0"/></clipPath></defs>
<circle cx="1127.5" cy="4184.0" r="64.375" fill="none" clip-path="url(#up)" stroke="#cfcfcf" stroke-width="1.5" stroke-dasharray="3,4"/>
<circle cx="1127.5" cy="4184.0" r="128.750" fill="none" clip-path="url(#up)" stroke="#a4a4a4" stroke-width="1.5" stroke-dasharray="9,6.5"/>
<circle cx="1127.5" cy="4184.0" r="193.125" fill="none" clip-path="url(#up)" stroke="#cfcfcf" stroke-width="1.5" stroke-dasharray="3,4"/>
<circle cx="1127.5" cy="4184.0" r="257.500" fill="none" clip-path="url(#up)" stroke="#a4a4a4" stroke-width="1.5" stroke-dasharray="9,6.5"/>
<circle cx="1127.5" cy="4184.0" r="321.875" fill="none" clip-path="url(#up)" stroke="#cfcfcf" stroke-width="1.5" stroke-dasharray="3,4"/>
<circle cx="1127.5" cy="4184.0" r="386.250" fill="none" clip-path="url(#up)" stroke="#a4a4a4" stroke-width="1.5" stroke-dasharray="9,6.5"/>
<circle cx="1127.5" cy="4184.0" r="450.625" fill="none" clip-path="url(#up)" stroke="#cfcfcf" stroke-width="1.5" stroke-dasharray="3,4"/>
<circle cx="1127.5" cy="4184.0" r="515.000" fill="none" clip-path="url(#up)" stroke="#a4a4a4" stroke-width="1.5" stroke-dasharray="9,6.5"/>
<circle cx="1127.5" cy="4184.0" r="579.375" fill="none" clip-path="url(#up)" stroke="#cfcfcf" stroke-width="1.5" stroke-dasharray="3,4"/>
<circle cx="1127.5" cy="4184.0" r="643.750" fill="none" clip-path="url(#up)" stroke="#a4a4a4" stroke-width="1.5" stroke-dasharray="9,6.5"/>
<circle cx="1127.5" cy="4184.0" r="708.125" fill="none" clip-path="url(#up)" stroke="#cfcfcf" stroke-width="1.5" stroke-dasharray="3,4"/>
<line x1="1127.5" y1="4184.0" x2="1900.0" y2="4184.0" stroke="#a4a4a4" stroke-width="1.5" stroke-dasharray="9,6.5"/>
<line x1="1880.0" y1="4184.0" x2="1900.0" y2="4184.0" stroke="#444" stroke-width="2" />
<line x1="1127.5" y1="4184.0" x2="1893.4" y2="4083.2" stroke="#cfcfcf" stroke-width="1.5" stroke-dasharray="3,4"/>
<line x1="1882.5" y1="4084.6" x2="1893.4" y2="4083.2" stroke="#444" stroke-width="2" />
<line x1="1127.5" y1="4184.0" x2="1873.7" y2="3984.1" stroke="#a4a4a4" stroke-width="1.5" stroke-dasharray="9,6.5"/>
<line x1="1854.4" y1="3989.2" x2="1873.7" y2="3984.1" stroke="#444" stroke-width="2" />
<line x1="1127.5" y1="4184.0" x2="1841.2" y2="3888.4" stroke="#cfcfcf" stroke-width="1.5" stroke-dasharray="3,4"/>
<line x1="1831.0" y1="3892.6" x2="1841.2" y2="3888.4" stroke="#444" stroke-width="2" />
<line x1="1127.5" y1="4184.0" x2="1796.5" y2="3797.8" stroke="#a4a4a4" stroke-width="1.5" stroke-dasharray="9,6.5"/>
<line x1="1779.2" y1="3807.8" x2="1796.5" y2="3797.8" stroke="#444" stroke-width="2" />
<line x1="1127.5" y1="4184.0" x2="1740.4" y2="3713.7" stroke="#cfcfcf" stroke-width="1.5" stroke-dasharray="3,4"/>
<line x1="1731.6" y1="3720.4" x2="1740.4" y2="3713.7" stroke="#444" stroke-width="2" />
<line x1="1127.5" y1="4184.0" x2="1673.7" y2="3637.8" stroke="#a4a4a4" stroke-width="1.5" stroke-dasharray="9,6.5"/>
<line x1="1659.6" y1="3651.9" x2="1673.7" y2="3637.8" stroke="#444" stroke-width="2" />
<line x1="1127.5" y1="4184.0" x2="1597.8" y2="3571.1" stroke="#cfcfcf" stroke-width="1.5" stroke-dasharray="3,4"/>
<line x1="1591.1" y1="3579.9" x2="1597.8" y2="3571.1" stroke="#444" stroke-width="2" />
<line x1="1127.5" y1="4184.0" x2="1513.8" y2="3515.0" stroke="#a4a4a4" stroke-width="1.5" stroke-dasharray="9,6.5"/>
<line x1="1503.8" y1="3532.3" x2="1513.8" y2="3515.0" stroke="#444" stroke-width="2" />
<line x1="1127.5" y1="4184.0" x2="1423.1" y2="3470.3" stroke="#cfcfcf" stroke-width="1.5" stroke-dasharray="3,4"/>
<line x1="1418.9" y1="3480.5" x2="1423.1" y2="3470.3" stroke="#444" stroke-width="2" />
<line x1="1127.5" y1="4184.0" x2="1327.4" y2="3437.8" stroke="#a4a4a4" stroke-width="1.5" stroke-dasharray="9,6.5"/>
<line x1="1322.3" y1="3457.1" x2="1327.4" y2="3437.8" stroke="#444" stroke-width="2" />
<line x1="1127.5" y1="4184.0" x2="1228.3" y2="3418.1" stroke="#cfcfcf" stroke-width="1.5" stroke-dasharray="3,4"/>
<line x1="1226.9" y1="3429.0" x2="1228.3" y2="3418.1" stroke="#444" stroke-width="2" />
<line x1="1127.5" y1="4184.0" x2="1127.5" y2="3411.5" stroke="#a4a4a4" stroke-width="1.5" stroke-dasharray="9,6.5"/>
<line x1="1127.5" y1="3431.5" x2="1127.5" y2="3411.5" stroke="#444" stroke-width="2" />
<line x1="1127.5" y1="4184.0" x2="1026.7" y2="3418.1" stroke="#cfcfcf" stroke-width="1.5" stroke-dasharray="3,4"/>
<line x1="1028.1" y1="3429.0" x2="1026.7" y2="3418.1" stroke="#444" stroke-width="2" />
<line x1="1127.5" y1="4184.0" x2="927.6" y2="3437.8" stroke="#a4a4a4" stroke-width="1.5" stroke-dasharray="9,6.5"/>
<line x1="932.7" y1="3457.1" x2="927.6" y2="3437.8" stroke="#444" stroke-width="2" />
<line x1="1127.5" y1="4184.0" x2="831.9" y2="3470.3" stroke="#cfcfcf" stroke-width="1.5" stroke-dasharray="3,4"/>
<line x1="836.1" y1="3480.5" x2="831.9" y2="3470.3" stroke="#444" stroke-width="2" />
<line x1="1127.5" y1="4184.0" x2="741.2" y2="3515.0" stroke="#a4a4a4" stroke-width="1.5" stroke-dasharray="9,6.5"/>
<line x1="751.2" y1="3532.3" x2="741.2" y2="3515.0" stroke="#444" stroke-width="2" />
<line x1="1127.5" y1="4184.0" x2="657.2" y2="3571.1" stroke="#cfcfcf" stroke-width="1.5" stroke-dasharray="3,4"/>
<line x1="663.9" y1="3579.9" x2="657.2" y2="3571.1" stroke="#444" stroke-width="2" />
<line x1="1127.5" y1="4184.0" x2="581.3" y2="3637.8" stroke="#a4a4a4" stroke-width="1.5" stroke-dasharray="9,6.5"/>
<line x1="595.4" y1="3651.9" x2="581.3" y2="3637.8" stroke="#444" stroke-width="2" />
<line x1="1127.5" y1="4184.0" x2="514.6" y2="3713.7" stroke="#cfcfcf" stroke-width="1.5" stroke-dasharray="3,4"/>
<line x1="523.4" y1="3720.4" x2="514.6" y2="3713.7" stroke="#444" stroke-width="2" />
<line x1="1127.5" y1="4184.0" x2="458.5" y2="3797.8" stroke="#a4a4a4" stroke-width="1.5" stroke-dasharray="9,6.5"/>
<line x1="475.8" y1="3807.8" x2="458.5" y2="3797.8" stroke="#444" stroke-width="2" />
<line x1="1127.5" y1="4184.0" x2="413.8" y2="3888.4" stroke="#cfcfcf" stroke-width="1.5" stroke-dasharray="3,4"/>
<line x1="424.0" y1="3892.6" x2="413.8" y2="3888.4" stroke="#444" stroke-width="2" />
<line x1="1127.5" y1="4184.0" x2="381.3" y2="3984.1" stroke="#a4a4a4" stroke-width="1.5" stroke-dasharray="9,6.5"/>
<line x1="400.6" y1="3989.2" x2="381.3" y2="3984.1" stroke="#444" stroke-width="2" />
<line x1="1127.5" y1="4184.0" x2="361.6" y2="4083.2" stroke="#cfcfcf" stroke-width="1.5" stroke-dasharray="3,4"/>
<line x1="372.5" y1="4084.6" x2="361.6" y2="4083.2" stroke="#444" stroke-width="2" />
<line x1="1127.5" y1="4184.0" x2="355.0" y2="4184.0" stroke="#a4a4a4" stroke-width="1.5" stroke-dasharray="9,6.5"/>
<line x1="375.0" y1="4184.0" x2="355.0" y2="4184.0" stroke="#444" stroke-width="2" />
<circle cx="1127.5" cy="4184.0" r="772.5" fill="none" stroke="#444" stroke-width="2.2" clip-path="url(#up2)"/>
<circle cx="1127.5" cy="4184.0" r="9" fill="#888" clip-path="url(#up)"/>
<polyline fill="none" stroke="#000" stroke-width="4.4" stroke-linejoin="miter" stroke-dasharray="36,14,6,14" points="1109.9,4179.9 904.7,4053.7 998.1,4063.8 1038.7,4035.4 1087.4,4041.8 1123.2,3987.3 1177.9,3985.8 1198.2,4063.8 1294.8,4020.5 1401.4,4026.0 1348.0,4124.0"/>
<polyline fill="none" stroke="#0000ee" stroke-width="4.4" stroke-linejoin="miter" stroke-dasharray="15,11" points="1086.2,4172.4 762.7,3970.5 1087.0,4030.0 1127.3,3959.8 1182.0,3976.0 1199.5,4049.5 1335.8,3982.2 1486.1,3977.3 1341.4,4126.4"/>
<polyline fill="none" stroke="#138a13" stroke-width="4.4" stroke-linejoin="miter" stroke-dasharray="29,28" points="1074.9,4169.3 621.5,3886.3 1075.0,3998.8 1127.3,3909.3 1190.4,3943.6 1227.2,4005.9 1412.3,3916.7 1609.0,3905.7 1350.0,4121.5"/>
<polyline fill="none" stroke="#ee1111" stroke-width="4.4" stroke-linejoin="miter"  points="1059.9,4166.2 499.5,3821.5 978.5,3931.2 1070.0,3970.1 1127.4,3857.7 1198.5,3913.9 1248.3,3975.8 1458.7,3852.7 1726.5,3837.4 1356.2,4123.3"/>
<text transform="translate(1127.5,3368.0)" font-family='"Liberation Sans", Arial, sans-serif' font-size="61.5" font-weight="normal" text-anchor="middle" fill="#000" >0</text>
<text transform="translate(921.7,3397.5)" font-family='"Liberation Sans", Arial, sans-serif' font-size="61.5" font-weight="normal" text-anchor="middle" fill="#000" >15</text>
<text transform="translate(692.3,3476.2)" font-family='"Liberation Sans", Arial, sans-serif' font-size="61.5" font-weight="normal" text-anchor="middle" fill="#000" >30</text>
<text transform="translate(525.8,3602.7)" font-family='"Liberation Sans", Arial, sans-serif' font-size="61.5" font-weight="normal" text-anchor="middle" fill="#000" >45</text>
<text transform="translate(399.3,3769.4)" font-family='"Liberation Sans", Arial, sans-serif' font-size="61.5" font-weight="normal" text-anchor="middle" fill="#000" >60</text>
<text transform="translate(321.1,3996.0)" font-family='"Liberation Sans", Arial, sans-serif' font-size="61.5" font-weight="normal" text-anchor="middle" fill="#000" >75</text>
<text transform="translate(293.0,4203.2)" font-family='"Liberation Sans", Arial, sans-serif' font-size="61.5" font-weight="normal" text-anchor="middle" fill="#000" >90</text>
<text transform="translate(1331.8,3396.8)" font-family='"Liberation Sans", Arial, sans-serif' font-size="61.5" font-weight="normal" text-anchor="middle" fill="#000" >-15</text>
<text transform="translate(1569.8,3476.1)" font-family='"Liberation Sans", Arial, sans-serif' font-size="61.5" font-weight="normal" text-anchor="middle" fill="#000" >-30</text>
<text transform="translate(1734.0,3602.9)" font-family='"Liberation Sans", Arial, sans-serif' font-size="61.5" font-weight="normal" text-anchor="middle" fill="#000" >-45</text>
<text transform="translate(1862.7,3768.9)" font-family='"Liberation Sans", Arial, sans-serif' font-size="61.5" font-weight="normal" text-anchor="middle" fill="#000" >-60</text>
<text transform="translate(1942.0,3997.0)" font-family='"Liberation Sans", Arial, sans-serif' font-size="61.5" font-weight="normal" text-anchor="middle" fill="#000" >-75</text>
<text transform="translate(1970.0,4203.3)" font-family='"Liberation Sans", Arial, sans-serif' font-size="61.5" font-weight="normal" text-anchor="middle" fill="#000" >-90</text>
<text transform="translate(1233.8,4223.5) rotate(90)" font-family='"Liberation Sans", Arial, sans-serif' font-size="66" font-weight="normal" text-anchor="start" fill="#000" >2.0x10</text>
<text transform="translate(1256.8,4418.5) rotate(90)" font-family='"Liberation Sans", Arial, sans-serif' font-size="42" font-weight="normal" text-anchor="start" fill="#000" >-5</text>
<text transform="translate(1365.7,4223.5) rotate(90)" font-family='"Liberation Sans", Arial, sans-serif' font-size="66" font-weight="normal" text-anchor="start" fill="#000" >4.0x10</text>
<text transform="translate(1388.7,4418.5) rotate(90)" font-family='"Liberation Sans", Arial, sans-serif' font-size="42" font-weight="normal" text-anchor="start" fill="#000" >-5</text>
<text transform="translate(1499.4,4223.5) rotate(90)" font-family='"Liberation Sans", Arial, sans-serif' font-size="66" font-weight="normal" text-anchor="start" fill="#000" >6.0x10</text>
<text transform="translate(1522.4,4418.5) rotate(90)" font-family='"Liberation Sans", Arial, sans-serif' font-size="42" font-weight="normal" text-anchor="start" fill="#000" >-5</text>
<text transform="translate(1629.3,4223.5) rotate(90)" font-family='"Liberation Sans", Arial, sans-serif' font-size="66" font-weight="normal" text-anchor="start" fill="#000" >8.0x10</text>
<text transform="translate(1652.3,4418.5) rotate(90)" font-family='"Liberation Sans", Arial, sans-serif' font-size="42" font-weight="normal" text-anchor="start" fill="#000" >-5</text>
<text transform="translate(1757.4,4223.5) rotate(90)" font-family='"Liberation Sans", Arial, sans-serif' font-size="66" font-weight="normal" text-anchor="start" fill="#000" >1.0x10</text>
<text transform="translate(1780.4,4418.5) rotate(90)" font-family='"Liberation Sans", Arial, sans-serif' font-size="42" font-weight="normal" text-anchor="start" fill="#000" >-6</text>
<text transform="translate(1876.0,4223.5) rotate(90)" font-family='"Liberation Sans", Arial, sans-serif' font-size="66" font-weight="normal" text-anchor="start" fill="#000" >1.2x10</text>
<text transform="translate(1899.0,4418.5) rotate(90)" font-family='"Liberation Sans", Arial, sans-serif' font-size="42" font-weight="normal" text-anchor="start" fill="#000" >-6</text>
<text transform="translate(448.5,4297.3)" font-family='Carlito, "Liberation Sans", sans-serif' font-size="84" font-weight="bold" text-anchor="start" fill="#000" textLength="619" lengthAdjust="spacingAndGlyphs">CL intensity (RLU)</text>
<text transform="translate(294.7,3368.5)" font-family='Carlito, "Liberation Sans", sans-serif' font-size="105" font-weight="bold" text-anchor="start" fill="#000" >c</text>
<text transform="translate(346.0,3377.0)" font-family='Carlito, "Liberation Sans", sans-serif' font-size="95" font-weight="bold" text-anchor="start" fill="#000" stroke="#000" stroke-width="4">)</text>
<line x1="1645.3" y1="3269.2" x2="1777" y2="3269.2" stroke="#000" stroke-width="4.6" stroke-dasharray="36,14,6,14"/>
<text transform="translate(1810.5,3290.2) scale(0.975,1)" font-family='"Liberation Sans", Arial, sans-serif' font-size="62" font-weight="normal" text-anchor="start" fill="#000" >1 min</text>
<line x1="1645.3" y1="3346.9" x2="1789.5" y2="3346.9" stroke="#0000ee" stroke-width="4.6" stroke-dasharray="15,11"/>
<text transform="translate(1810.5,3367.9) scale(0.975,1)" font-family='"Liberation Sans", Arial, sans-serif' font-size="62" font-weight="normal" text-anchor="start" fill="#000" >3 min</text>
<line x1="1645.3" y1="3424.5" x2="1789.5" y2="3424.5" stroke="#138a13" stroke-width="4.6" stroke-dasharray="29,28"/>
<text transform="translate(1810.5,3445.5) scale(0.975,1)" font-family='"Liberation Sans", Arial, sans-serif' font-size="62" font-weight="normal" text-anchor="start" fill="#000" >6 min</text>
<line x1="1645.3" y1="3501.7" x2="1789.5" y2="3501.7" stroke="#ee1111" stroke-width="4.6" />
<text transform="translate(1810.5,3522.7) scale(0.975,1)" font-family='"Liberation Sans", Arial, sans-serif' font-size="62" font-weight="normal" text-anchor="start" fill="#000" >10 min</text>
</svg></body></html>
